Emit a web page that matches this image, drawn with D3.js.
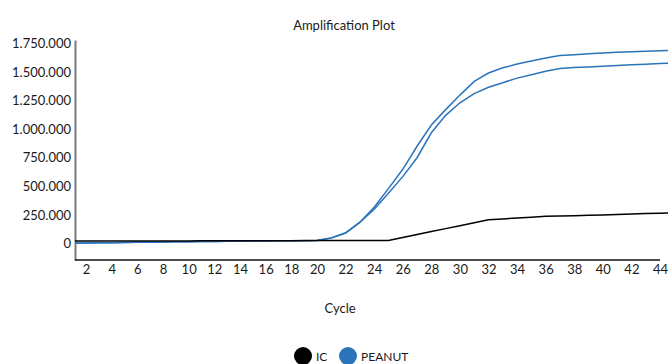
<!DOCTYPE html>
<html>
<head>
<meta charset="utf-8">
<script src="https://cdn.jsdelivr.net/npm/d3@7"></script>
<style>
  html, body { margin: 0; padding: 0; background: #fff; }
  svg { display: block; }
  text { font-family: Lato, "Open Sans", sans-serif; fill: #1a1a1a; }
</style>
</head>
<body>
<svg id="chart" width="672" height="364"></svg>
<script>
// PCR cycles and fluorescence readings per series
const cycles = d3.range(1, 46);
const icValues = [
  22000, 22000, 22500, 22500, 23000, 23000, 23500, 23500, 24000, 24000,
  24500, 24500, 25000, 25000, 25500, 25500, 26000, 26000, 26500, 26500,
  27000, 27000, 27500, 27500, 28000, 54000, 80000, 105000, 131000, 157000,
  183000, 208000, 216000, 224000, 231000, 238000, 241000, 244000, 248000, 251000,
  255000, 258000, 262000, 265000, 269000
];
const peanutA = [
  5000, 6000, 7000, 8500, 10000, 11000, 12500, 14000, 15500, 17000,
  18000, 19000, 20000, 21000, 22000, 23000, 24000, 25000, 26000, 28000,
  50000, 95000, 187000, 317000, 480000, 649000, 850000, 1035000, 1170000, 1297000,
  1417000, 1490000, 1535000, 1568000, 1595000, 1620000, 1643000, 1650000, 1657000, 1665000,
  1670000, 1675000, 1679000, 1684000, 1690000
];
const peanutB = [
  5000, 6000, 7000, 8500, 10000, 11000, 12500, 14000, 15500, 17000,
  18000, 19000, 20000, 21000, 22000, 23000, 24000, 25000, 26000, 28000,
  50000, 92000, 185000, 300000, 440000, 585000, 750000, 968000, 1120000, 1230000,
  1310000, 1365000, 1405000, 1445000, 1475000, 1505000, 1530000, 1537000, 1543000, 1549000,
  1555000, 1561000, 1566000, 1572000, 1578000
];
const xTicks = d3.range(2, 45, 2);
const yTicks = [0, 250000, 500000, 750000, 1000000, 1250000, 1500000, 1750000];
const seriesNames = ["IC", "PEANUT"];
const seriesColors = ["#000000", "#2b74ba"];

const svg = d3.select("#chart");
const plotLeft = 75, plotRight = 668, plotTop = 40, plotBottom = 260;

const x = d3.scaleLinear().domain([2, 20, 44]).range([86, 317, 660]);
const y = d3.scaleLinear().domain([-143000, 1778000]).range([plotBottom, plotTop]);

const locale = d3.formatLocale({ decimal: ",", thousands: ".", grouping: [3], currency: ["", ""] });
const fmt = locale.format(",d");

// title
svg.append("text")
  .attr("x", 344).attr("y", 30)
  .attr("text-anchor", "middle")
  .style("font-size", "13px")
  .text("Amplification Plot");

// clip region for the curves
svg.append("clipPath").attr("id", "plotClip")
  .append("rect").attr("x", plotLeft).attr("y", plotTop - 5)
  .attr("width", plotRight - plotLeft).attr("height", plotBottom - plotTop + 5);

// y axis
const yAxis = svg.append("g")
  .attr("transform", `translate(${plotLeft},0)`)
  .call(d3.axisLeft(y).tickValues(yTicks).tickFormat(fmt).tickSize(0).tickSizeOuter(0).tickPadding(4));
yAxis.select(".domain").attr("stroke", "#7a7a7a").attr("stroke-width", 2);
yAxis.selectAll("text").style("font-size", "13px").style("font-family", "Lato, sans-serif").attr("fill", "#1a1a1a");

// x axis
const xAxis = svg.append("g")
  .attr("transform", `translate(0,${plotBottom})`)
  .call(d3.axisBottom(x).tickValues(xTicks).tickSize(0).tickPadding(5));
xAxis.select(".domain").remove();
xAxis.selectAll("text").style("font-size", "13px").style("font-family", "Lato, sans-serif").attr("fill", "#1a1a1a");
svg.append("line")
  .attr("x1", plotLeft).attr("x2", x(44))
  .attr("y1", plotBottom).attr("y2", plotBottom)
  .attr("stroke", "#111").attr("stroke-width", 1.5);

// curves
const line = d3.line().x((d, i) => x(cycles[i])).y(d => y(d));
const plot = svg.append("g").attr("clip-path", "url(#plotClip)");
[peanutA, peanutB].forEach(vals => {
  plot.append("path").datum(vals)
    .attr("d", line)
    .attr("fill", "none")
    .attr("stroke", seriesColors[1])
    .attr("stroke-width", 1.5);
});
plot.append("path").datum(icValues)
  .attr("d", line)
  .attr("fill", "none")
  .attr("stroke", seriesColors[0])
  .attr("stroke-width", 1.5);

// x axis title
svg.append("text")
  .attr("x", 340).attr("y", 313)
  .attr("text-anchor", "middle")
  .style("font-size", "13px")
  .text("Cycle");

// legend
const legendPos = [[303, 316], [348, 361]];
const legend = svg.append("g");
seriesNames.forEach((name, i) => {
  legend.append("circle")
    .attr("cx", legendPos[i][0]).attr("cy", 356).attr("r", 9)
    .attr("fill", seriesColors[i]);
  legend.append("text")
    .attr("x", legendPos[i][1]).attr("y", 361)
    .style("font-size", "12px")
    .text(name);
});
</script>
</body>
</html>
